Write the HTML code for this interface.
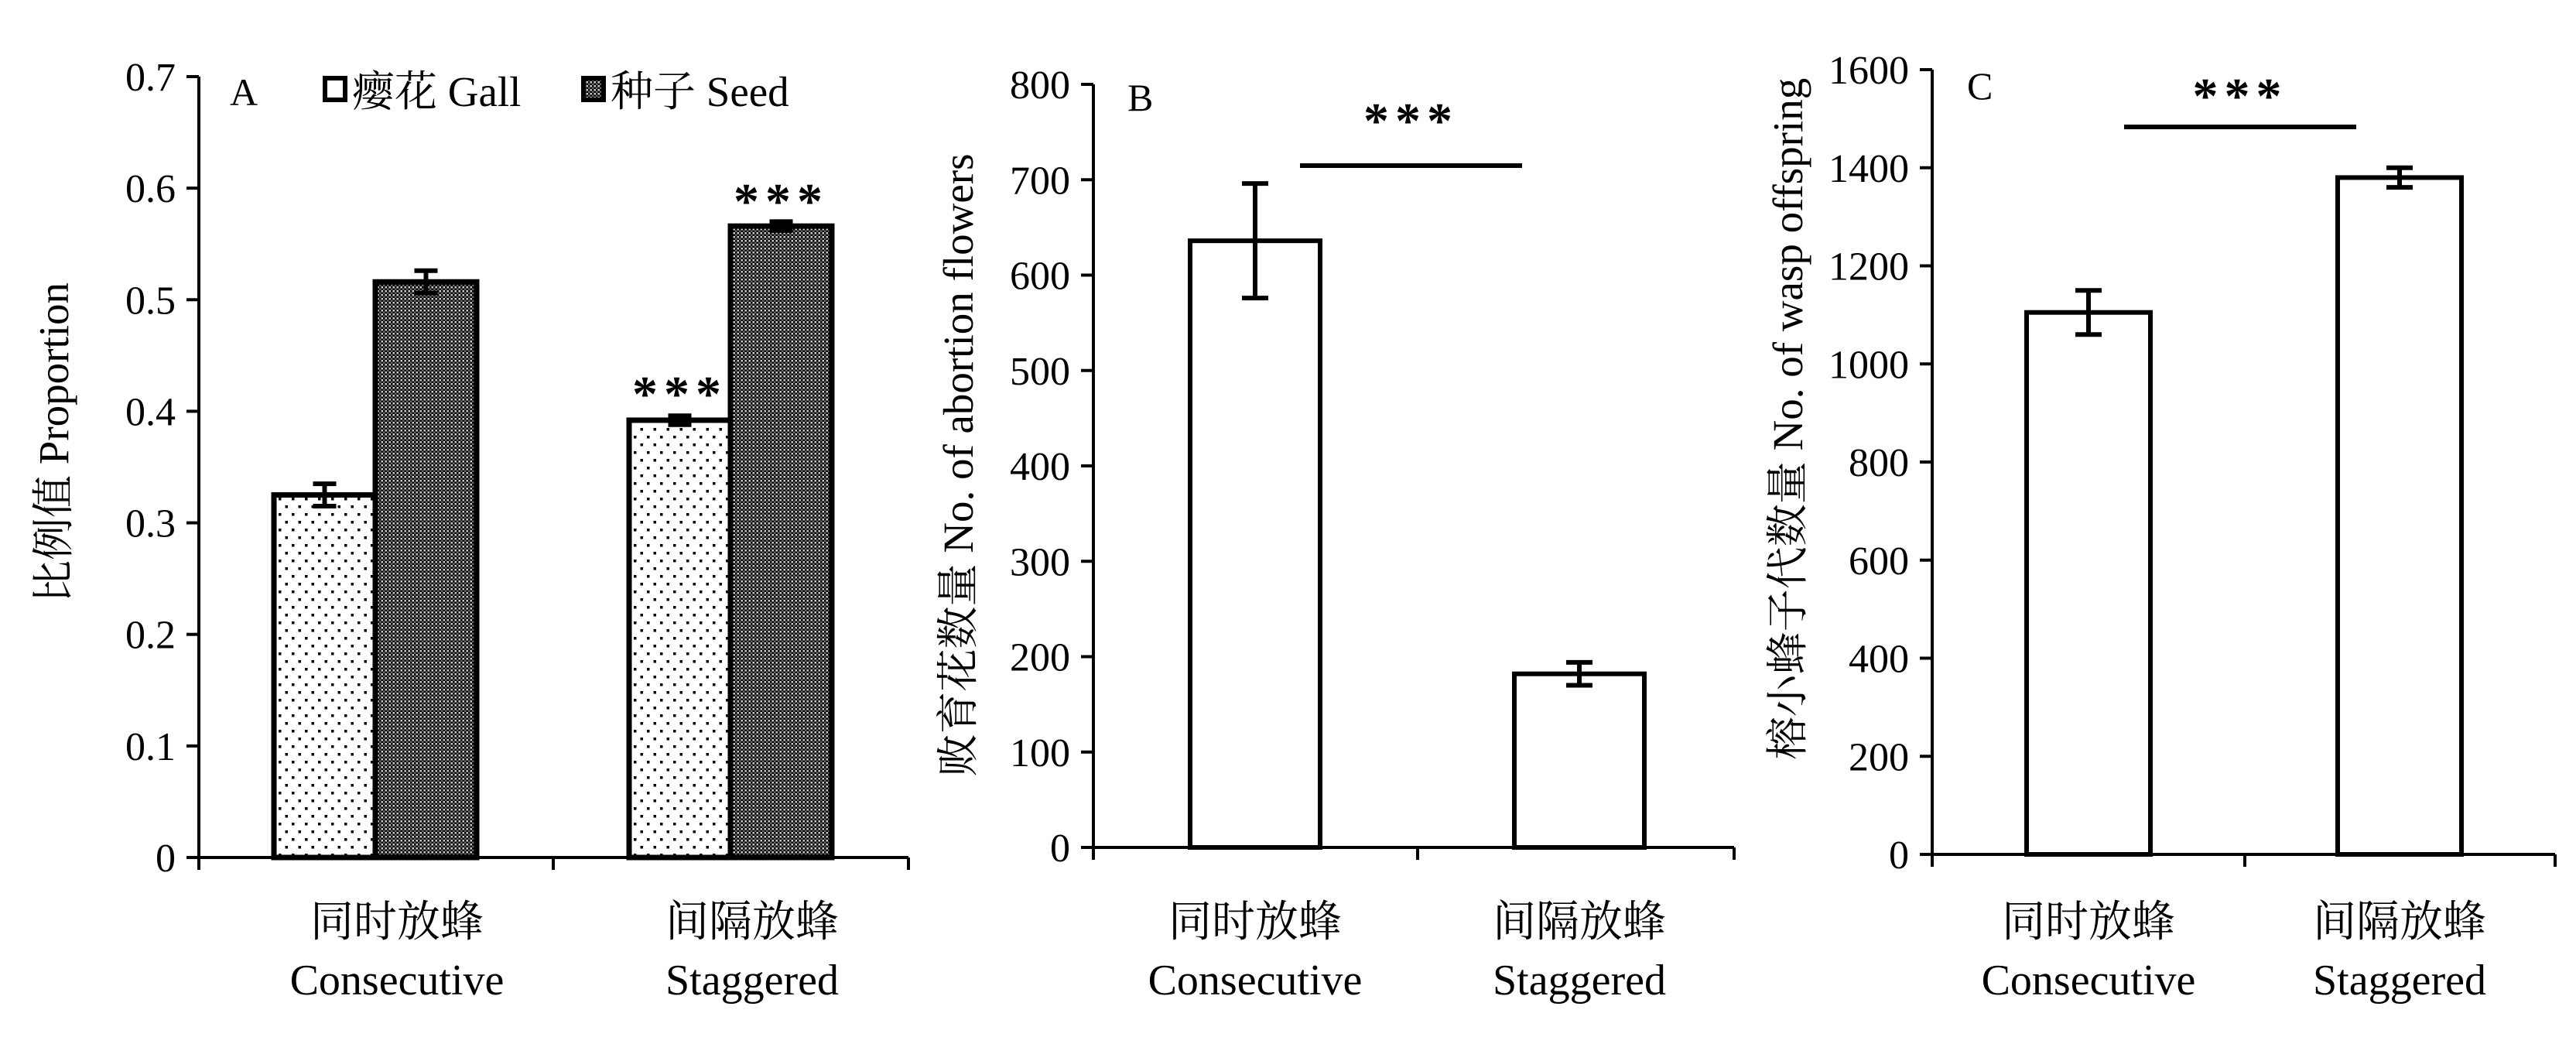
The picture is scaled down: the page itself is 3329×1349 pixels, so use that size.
<!DOCTYPE html>
<html><head><meta charset="utf-8"><style>
html,body{margin:0;padding:0;background:#fff;}
svg{display:block;font-family:"Liberation Serif","Noto Serif CJK SC","Noto Sans CJK SC",serif;}
</style></head><body>
<svg id="fig" width="3329" height="1349" viewBox="0 0 3329 1349" xmlns="http://www.w3.org/2000/svg">
<defs>
<pattern id="dots" width="17" height="20" patternUnits="userSpaceOnUse">
<rect width="17" height="20" fill="#fff"/><rect x="3" y="3" width="3.5" height="3.5" fill="#000"/><rect x="11.5" y="13" width="3.5" height="3.5" fill="#000"/>
</pattern>
<pattern id="check" width="5" height="5" patternUnits="userSpaceOnUse">
<rect width="5" height="5" fill="#666"/><rect width="2.5" height="2.5" fill="#000"/><rect x="2.5" y="2.5" width="2.5" height="2.5" fill="#000"/><rect x="2.5" y="0" width="2.5" height="2.5" fill="#ccc"/>
</pattern>
</defs>
<g id="root"></g>
</svg>
<script>
// Panel A data
const catsA = ["Consecutive","Staggered"];
const gallA = [0.325, 0.392];
const gallErrA = [0.010, 0.004];
const seedA = [0.516, 0.566];
const seedErrA = [0.010, 0.004];
const ticksA = [0,0.1,0.2,0.3,0.4,0.5,0.6,0.7];
// Panel B data
const valsB = [636, 182];
const errB = [60, 12];
const ticksB = [0,100,200,300,400,500,600,700,800];
// Panel C data
const valsC = [1105, 1380];
const errC = [45, 20];
const ticksC = [0,200,400,600,800,1000,1200,1400,1600];

const NS = "http://www.w3.org/2000/svg";
const root = document.getElementById('root');
function el(tag, attrs, parent, text){
  const e = document.createElementNS(NS, tag);
  for (const k in attrs) e.setAttribute(k, attrs[k]);
  if (text !== undefined) e.textContent = text;
  (parent||root).appendChild(e);
  return e;
}
function axes(p, g, ticks, fmt){
  const y = v => p.y0 - (v - p.min)/(p.max - p.min)*(p.y0 - p.y1);
  const ax = el('line',{x1:p.x0,y1:p.y1,x2:p.x0,y2:p.y0+16,stroke:'#000','stroke-width':4},g);
   
  const bx = el('line',{x1:p.x0,y1:p.y0,x2:p.x2,y2:p.y0,stroke:'#000','stroke-width':4},g);
   
  [p.xm, p.x2].forEach(x=>{
    const t = el('line',{x1:x,y1:p.y0,x2:x,y2:p.y0+16,stroke:'#000','stroke-width':4},g);
     
  });
  ticks.forEach(v=>{
    const t = el('line',{x1:p.x0-16,y1:y(v),x2:p.x0,y2:y(v),stroke:'#000','stroke-width':4},g);
     
    const l = el('text',{x:p.x0-30,y:y(v)+18,'text-anchor':'end','font-size':52},g,fmt(v));
     
  });
  return y;
}
function errbar(x, yTop, yBot, g, w){
  const e = el('g',{},g);
   
  el('line',{x1:x,y1:yTop,x2:x,y2:yBot,stroke:'#000','stroke-width':6},e);
  el('line',{x1:x-w,y1:yTop,x2:x+w,y2:yTop,stroke:'#000','stroke-width':6},e);
  el('line',{x1:x-w,y1:yBot,x2:x+w,y2:yBot,stroke:'#000','stroke-width':6},e);
}
function xlabels(cx, ys, g){
  const zh = ["同时放蜂","间隔放蜂"];
  cx.forEach((x,i)=>{
    const a = el('text',{x:x,y:ys,'text-anchor':'middle','font-size':56},g,zh[i]);
     
    const b = el('text',{x:x,y:ys+75,'text-anchor':'middle','font-size':56},g,catsA[i]);
     
  });
}
function stars(x,y,g){
  const s = el('text',{x:x,y:y,'text-anchor':'middle','font-size':66,'letter-spacing':8,'font-weight':'bold'},g,'***');
   
  return s;
}

// ---- Panel A
const gA = el('g',{});  
const pA = {x0:257,x2:1174,xm:715,y0:1108,y1:99,min:0,max:0.7};
const yA = axes(pA,gA,ticksA,v=>v===0?'0':v.toFixed(1));
const cA = [485, 944], bwA = 131;
catsA.forEach((c,i)=>{
  const r1 = el('rect',{x:cA[i]-bwA,y:yA(gallA[i]),width:bwA,height:yA(0)-yA(gallA[i]),fill:'url(#dots)',stroke:'#000','stroke-width':7},gA);
   
  const r2 = el('rect',{x:cA[i],y:yA(seedA[i]),width:bwA,height:yA(0)-yA(seedA[i]),fill:'url(#check)',stroke:'#000','stroke-width':7},gA);
   
  errbar(cA[i]-bwA/2, yA(gallA[i]+gallErrA[i]), yA(gallA[i]-gallErrA[i]), gA, 15);
  errbar(cA[i]+bwA/2, yA(seedA[i]+seedErrA[i]), yA(seedA[i]-seedErrA[i]), gA, 15);
});
stars(cA[1]-bwA/2, yA(gallA[1])-12, gA);
stars(cA[1]+bwA/2, yA(seedA[1])-10, gA);
xlabels([513,513+459], 1210, gA);
const lA = el('text',{x:297,y:136,'font-size':50},gA,'A');  
const yl = el('text',{x:0,y:0,'text-anchor':'middle','font-size':55,transform:'translate(88,572) rotate(-90)'},gA,'比例值 Proportion');
 
const leg = el('g',{},gA);  
const le1 = el('g',{},leg);  
el('rect',{x:420,y:101,width:26,height:28,fill:'#fff',stroke:'#000','stroke-width':6},le1);
el('text',{x:455,y:137,'font-size':55},le1,'瘿花 Gall');
const le2 = el('g',{},leg);  
el('rect',{x:754,y:101,width:26,height:28,fill:'url(#check)',stroke:'#000','stroke-width':6},le2);
el('text',{x:789,y:137,'font-size':55},le2,'种子 Seed');

// ---- Panels B, C
function single(name, p, ticks, vals, errs, cx, bw, sig, lbl, ytitle){
  const g = el('g',{});  
  const y = axes(p,g,ticks,v=>String(v));
  vals.forEach((v,i)=>{
    const r = el('rect',{x:cx[i]-bw/2,y:y(v),width:bw,height:y(0)-y(v),fill:'#fff',stroke:'#000','stroke-width':6},g);
     
    errbar(cx[i], y(v+errs[i]), y(v-errs[i]), g, 17);
  });
  const s = el('line',{x1:sig.x1,y1:sig.y,x2:sig.x2,y2:sig.y,stroke:'#000','stroke-width':6},g);
   
  stars((sig.x1+sig.x2)/2, sig.sy, g);
  xlabels(cx, 1210, g);
  const l = el('text',{x:lbl.x,y:lbl.y,'font-size':50},g,lbl.t);  
  const t = el('text',{x:0,y:0,'text-anchor':'middle','font-size':55,transform:'translate('+ytitle.x+','+ytitle.y+') rotate(-90)'},g,ytitle.t);
   
}
single('panel-b',{x0:1413,x2:2241,xm:1832,y0:1095,y1:109,min:0,max:800},ticksB,valsB,errB,[1622,2041],168,
  {x1:1680,x2:1967,y:214,sy:178},{x:1457,y:143,t:'B'},{x:1257,y:601,t:'败育花数量 No. of abortion flowers'});
single('panel-c',{x0:2497,x2:3302,xm:2901,y0:1104,y1:90,min:0,max:1600},ticksC,valsC,errC,[2699,3101],160,
  {x1:2745,x2:3045,y:164,sy:146},{x:2542,y:128,t:'C'},{x:2329,y:541,t:'榕小蜂子代数量 No. of  wasp offspring'});
</script>
</body></html>
